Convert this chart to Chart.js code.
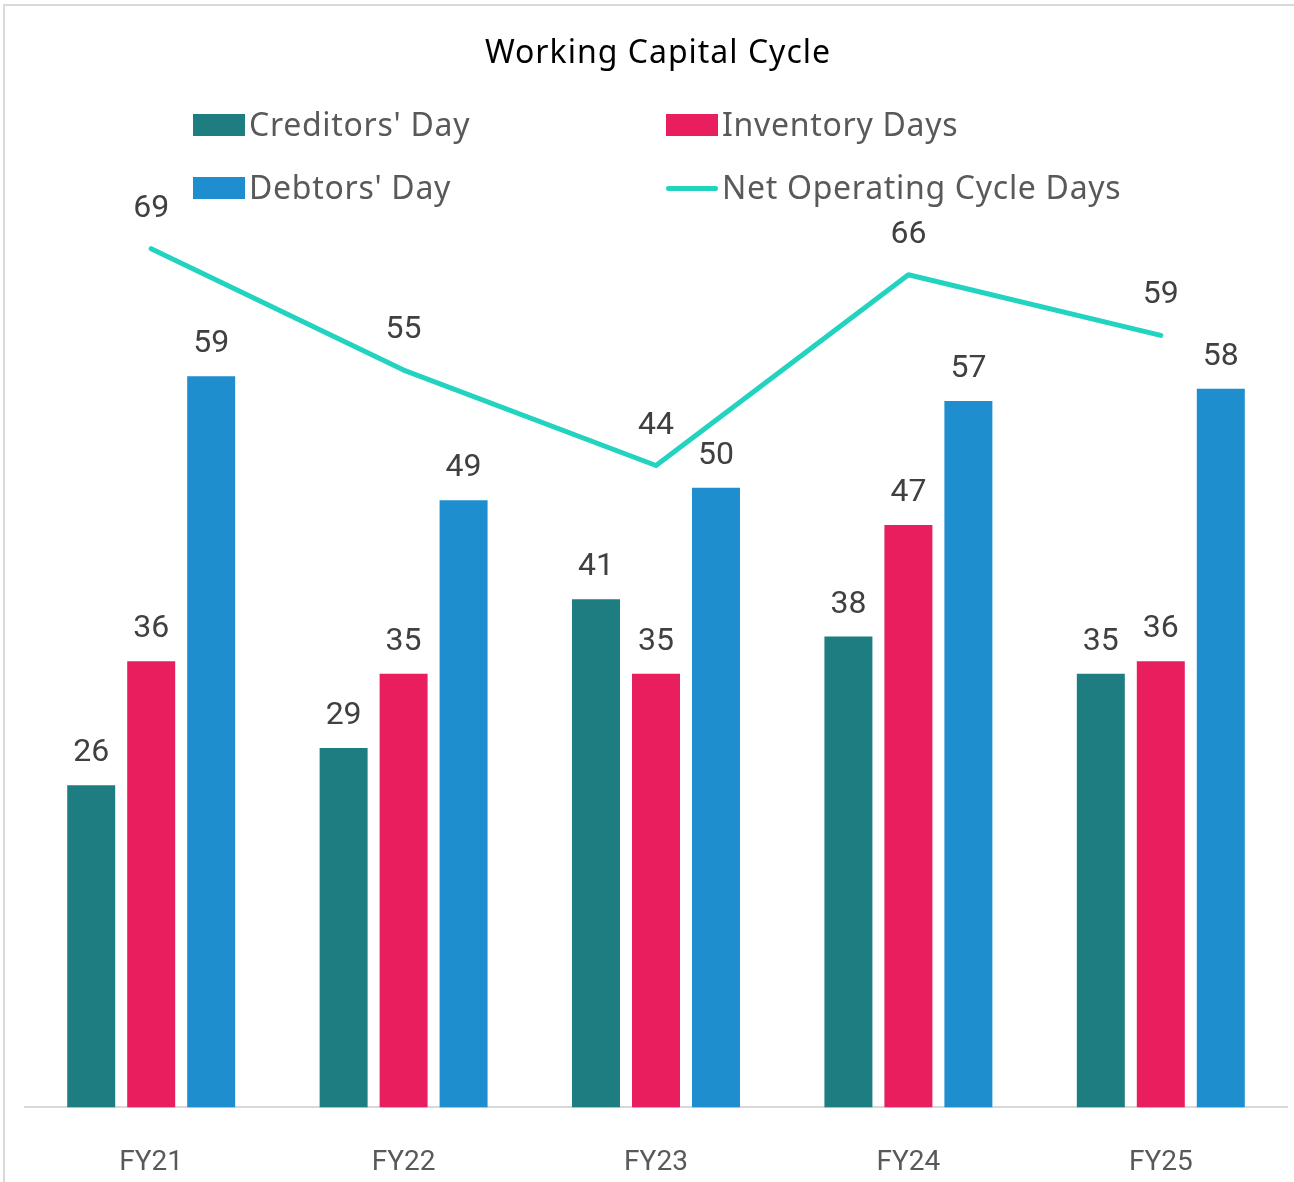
<!DOCTYPE html>
<html>
<head>
<meta charset="utf-8">
<script src="https://cdn.jsdelivr.net/npm/chart.js@4.4.1/dist/chart.umd.min.js"></script>
<style>
  body { margin: 0; background: #fff; }
  #wrap { position: relative; width: 1294px; height: 1182px; overflow: hidden; }
  #plot { position: absolute; left: 0; top: 0; width: 1294px; height: 1224px; }
  #frame { position: absolute; left: 3px; top: 4px; width: 1400px; height: 1300px;
           border-left: 2px solid #d9d9d9; border-top: 2px solid #d9d9d9; }
  #title { position: absolute; left: 0; width: 1316px; top: 29px; text-align: center;
           font: 32px "Noto Sans", sans-serif; letter-spacing: 1px; color: #000; }
  .lg { position: absolute; font: 32px "Noto Sans", sans-serif; letter-spacing: 0.7px;
        color: #595959; line-height: 40px; white-space: nowrap; }
  .patch { position: absolute; width: 52px; height: 22px; }
  .dash { position: absolute; width: 52px; height: 5px; border-radius: 3px; }
</style>
</head>
<body>
<div id="wrap">
  <div id="frame"></div>
  <div id="plot"><canvas id="chartWcc"></canvas></div>
  <div id="title">Working Capital Cycle</div>
  <div id="legend"></div>
</div>
<script>
const TEAL = "#1d7d80", PINK = "#e91e5e", BLUE = "#1e8ecf", LINE = "#22d3c0";
const LABEL = "#404040", AXIS = "#595959";

const categories = ["FY21", "FY22", "FY23", "FY24", "FY25"];
const creditorsDays = [26, 29, 41, 38, 35];
const inventoryDays = [36, 35, 35, 47, 36];
const debtorsDays = [59, 49, 50, 57, 58];
const netCycleDays = [69, 55, 44, 66, 59];

// legend laid out like the excel grid (two columns)
const legendItems = [
  {text: "Creditors' Day", color: TEAL, x: 193, y: 125, line: false},
  {text: "Inventory Days", color: PINK, x: 666, y: 125, line: false},
  {text: "Debtors' Day", color: BLUE, x: 193, y: 188, line: false},
  {text: "Net Operating Cycle Days", color: LINE, x: 666, y: 188, line: true},
];
const legendBox = document.getElementById("legend");
legendItems.forEach(it => {
  const mark = document.createElement("div");
  mark.className = it.line ? "dash" : "patch";
  mark.style.background = it.color;
  mark.style.left = it.x + "px";
  mark.style.top = (it.y - (it.line ? 2.5 : 11)) + "px";
  legendBox.appendChild(mark);
  const t = document.createElement("div");
  t.className = "lg";
  t.textContent = it.text;
  t.style.left = (it.x + 56) + "px";
  t.style.top = (it.y - 21) + "px";
  legendBox.appendChild(t);
});

const valueLabels = {
  id: "valueLabels",
  afterDatasetsDraw(chart) {
    const ctx = chart.ctx;
    ctx.save();
    ctx.font = "32px Roboto, sans-serif";
    ctx.fillStyle = LABEL;
    ctx.textAlign = "center";
    ctx.textBaseline = "middle";
    chart.data.datasets.forEach((ds, i) => {
      const meta = chart.getDatasetMeta(i);
      const off = ds.type === "line" ? 40 : 32;
      meta.data.forEach((el, j) => {
        ctx.fillText(String(ds.data[j]), el.x, el.y - off);
      });
    });
    ctx.restore();
  }
};

new Chart(document.getElementById("chartWcc"), {
  type: "bar",
  data: {
    labels: categories,
    datasets: [
      {
        type: "line",
        label: "Net Operating Cycle Days",
        data: netCycleDays,
        yAxisID: "y1",
        borderColor: LINE,
        borderWidth: 5,
        borderCapStyle: "round",
        borderJoinStyle: "round",
        pointRadius: 0,
        tension: 0,
        order: 0
      },
      {label: "Creditors' Day", data: creditorsDays, backgroundColor: TEAL, order: 1},
      {label: "Inventory Days", data: inventoryDays, backgroundColor: PINK, order: 1},
      {label: "Debtors' Day", data: debtorsDays, backgroundColor: BLUE, order: 1}
    ]
  },
  options: {
    responsive: true,
    maintainAspectRatio: false,
    animation: false,
    categoryPercentage: 0.713,
    barPercentage: 0.8,
    layout: {padding: {left: 25, right: 7, top: 240, bottom: 5}},
    plugins: {legend: {display: false}, tooltip: {enabled: false}},
    scales: {
      x: {
        grid: {display: false, drawTicks: false},
        border: {display: true, color: "#d9d9d9", width: 2},
        ticks: {color: AXIS, font: {family: "Roboto", size: 28}, padding: 39}
      },
      y: {display: false, min: 0, max: 70},
      y1: {display: false, min: -30, max: 70, position: "right"}
    }
  },
  plugins: [valueLabels]
});
</script>
</body>
</html>
